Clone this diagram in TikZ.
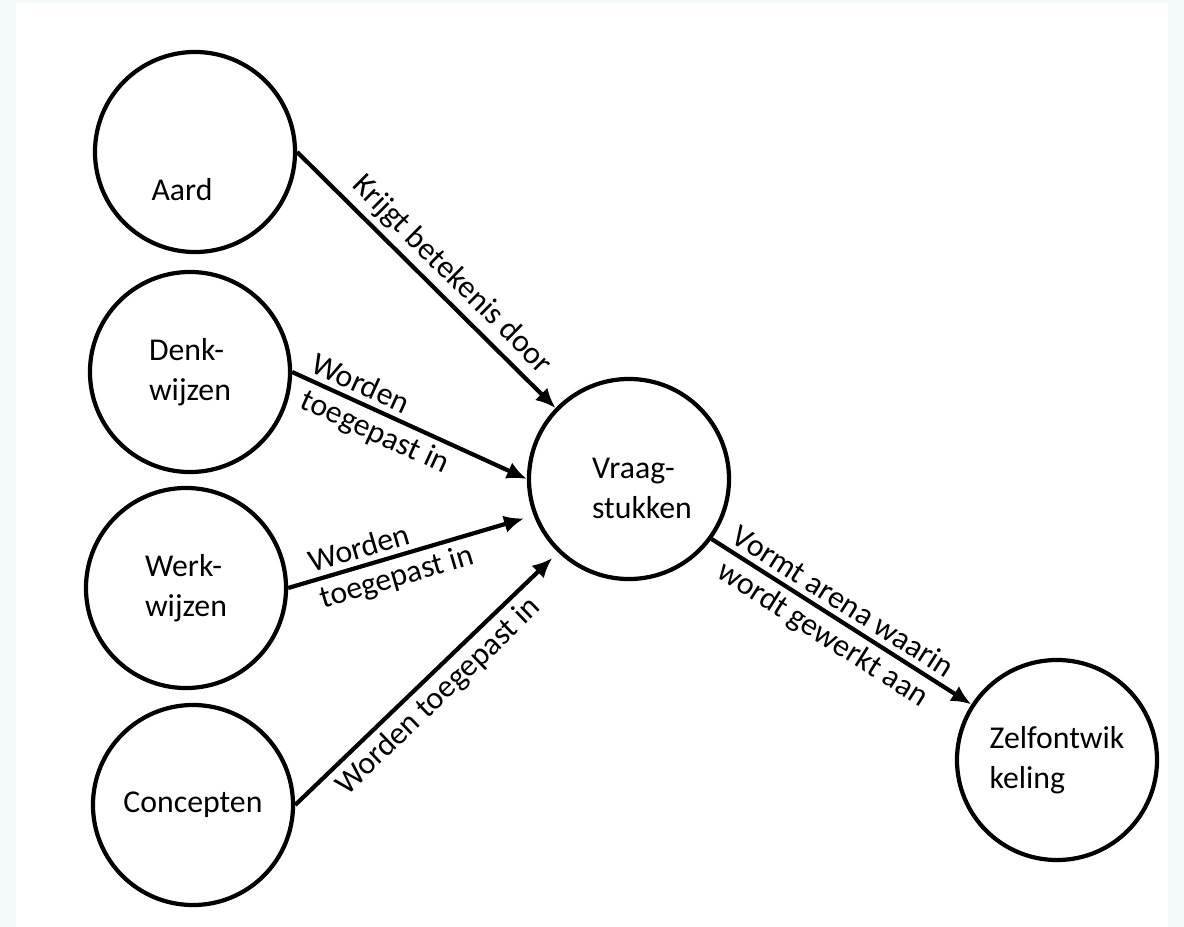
\documentclass[tikz,border=0pt]{standalone}
\usepackage{fontspec}
\setmainfont{Carlito}
\usetikzlibrary{arrows.meta}
\definecolor{bgblue}{HTML}{F4F9FB}
\tikzset{
  topic/.style={draw, circle, line width=3pt, minimum size=5cm, inner sep=0pt, align=left},
  link/.style={line width=3pt, -{Latex[length=0.5cm,width=0.44cm]}},
  tag/.style={sloped, inner sep=4pt}
}

\begin{document}
\begin{tikzpicture}[x=0.025cm, y=-0.025cm, font=\fontsize{22.6}{28.5}\selectfont]
  %%%%% BACKGROUND %%%%%
  \fill[bgblue] (0,0) rectangle (1184,927);
  \fill[white] (16,3) rectangle (1168,927);

  %%%%% TOPICS %%%%%
  \node[topic] (aard) at (195,152) {};
  \node (aardtext) at (182,190) {Aard};

  \node[topic] (denk) at (190,372) {Denk-\\wijzen};
  \node[topic] (werk) at (186,588) {Werk-\\wijzen};
  \node[topic] (concepten) at (193,805) {Concepten};

  \node[topic] (vraag) at (629,479) {};
  \node[align=left] (vraagtext) at (642,488) {Vraag-\\stukken};

  \node[topic] (zelf) at (1057,760) {Zelfontwik\\keling};

  %%%%% LINKS %%%%%
  \draw[link] (aard.east) -- node[tag, above, pos=0.54] {Krijgt betekenis door} (vraag.136);

  \draw[link] (denk.east) -- node[tag, above, pos=0.26] {Worden}
                             node[tag, below, pos=0.39] {toegepast in} (vraag.180);

  \draw[link, shorten >=0.25cm] (werk.east) -- node[tag, above, pos=0.31] {Worden}
                             node[tag, below, pos=0.42] {toegepast in} (vraag.201);

  \draw[link, shorten >=0.2cm] (concepten.east) -- node[tag, below, pos=0.49] {Worden toegepast in} (vraag.226);

  \draw[link] (vraag.-36) -- node[tag, above, pos=0.47] {Vormt arena waarin}
                             node[tag, below, pos=0.47] {wordt gewerkt aan} (zelf.147);
\end{tikzpicture}
\end{document}
